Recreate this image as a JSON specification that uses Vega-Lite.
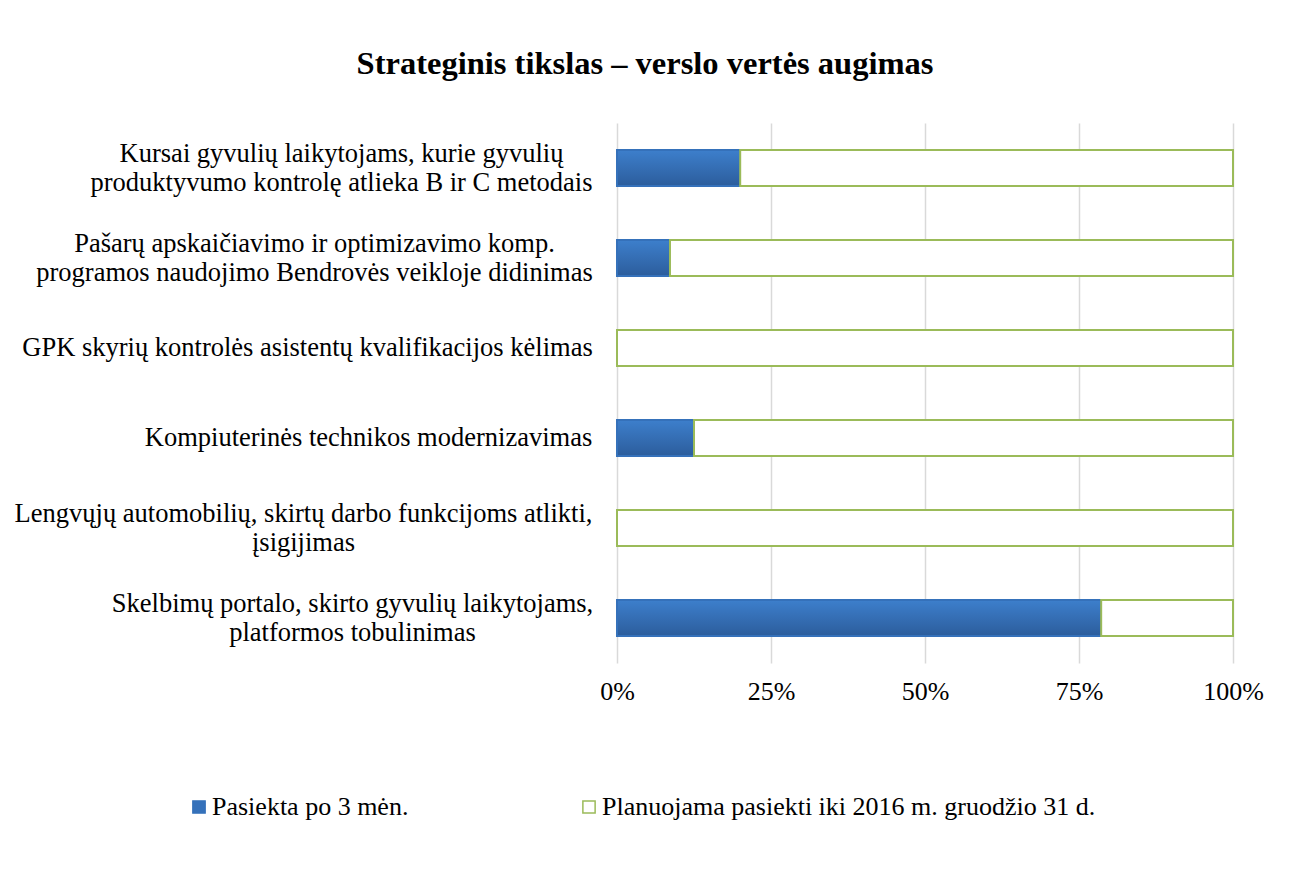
{
  "$schema": "https://vega.github.io/schema/vega-lite/v6.json",
  "autosize": {"type": "none"},
  "width": 616,
  "height": 540,
  "padding": {"left": 617, "top": 123, "right": 66, "bottom": 212},
  "background": "white",
  "title": {
    "text": "Strateginis tikslas – verslo vertės augimas",
    "font": "Liberation Serif",
    "fontSize": 32.5,
    "fontWeight": "bold",
    "color": "black",
    "anchor": "middle",
    "baseline": "alphabetic",
    "offset": 17,
    "dx": -280
  },
  "data": {
    "values": [
      {"cat": "Kursai gyvulių laikytojams, kurie gyvulių|produktyvumo kontrolę atlieka B ir C metodais", "series": "Pasiekta po 3 mėn.", "v": 0.20},
      {"cat": "Kursai gyvulių laikytojams, kurie gyvulių|produktyvumo kontrolę atlieka B ir C metodais", "series": "Planuojama pasiekti iki 2016 m. gruodžio 31 d.", "v": 0.80},
      {"cat": "Pašarų apskaičiavimo ir optimizavimo komp.|programos naudojimo Bendrovės veikloje didinimas", "series": "Pasiekta po 3 mėn.", "v": 0.086},
      {"cat": "Pašarų apskaičiavimo ir optimizavimo komp.|programos naudojimo Bendrovės veikloje didinimas", "series": "Planuojama pasiekti iki 2016 m. gruodžio 31 d.", "v": 0.914},
      {"cat": "GPK skyrių kontrolės asistentų kvalifikacijos kėlimas", "series": "Planuojama pasiekti iki 2016 m. gruodžio 31 d.", "v": 1.0},
      {"cat": "Kompiuterinės technikos modernizavimas", "series": "Pasiekta po 3 mėn.", "v": 0.125},
      {"cat": "Kompiuterinės technikos modernizavimas", "series": "Planuojama pasiekti iki 2016 m. gruodžio 31 d.", "v": 0.875},
      {"cat": "Lengvųjų automobilių, skirtų darbo funkcijoms atlikti,|įsigijimas", "series": "Planuojama pasiekti iki 2016 m. gruodžio 31 d.", "v": 1.0},
      {"cat": "Skelbimų portalo, skirto gyvulių laikytojams,|platformos tobulinimas", "series": "Pasiekta po 3 mėn.", "v": 0.786},
      {"cat": "Skelbimų portalo, skirto gyvulių laikytojams,|platformos tobulinimas", "series": "Planuojama pasiekti iki 2016 m. gruodžio 31 d.", "v": 0.214}
    ]
  },
  "mark": {"type": "bar", "strokeWidth": 2},
  "encoding": {
    "y": {
      "field": "cat",
      "type": "nominal",
      "sort": null,
      "title": null,
      "scale": {"paddingInner": 0.6, "paddingOuter": 0.3},
      "axis": {
        "domain": false,
        "ticks": false,
        "tickSize": 0,
        "labelExpr": "split(datum.value, '|')",
        "labelFont": "Liberation Serif",
        "labelFontSize": 26.5,
        "labelColor": "black",
        "labelLineHeight": 29,
        "labelLimit": 0,
        "labelAlign": "center",
        "labelOffset": {
          "condition": {"test": "indexof(datum.value, '|') >= 0", "value": -14.5},
          "value": 0
        },
        "labelPadding": {
          "condition": [
            {"test": "indexof(datum.value, 'Kursai') == 0", "value": 276},
            {"test": "indexof(datum.value, 'Pašarų') == 0", "value": 303},
            {"test": "indexof(datum.value, 'GPK') == 0", "value": 310},
            {"test": "indexof(datum.value, 'Kompiuterinės') == 0", "value": 249},
            {"test": "indexof(datum.value, 'Lengv') == 0", "value": 314},
            {"test": "indexof(datum.value, 'Skelb') == 0", "value": 265}
          ],
          "value": 280
        }
      }
    },
    "x": {
      "field": "v",
      "type": "quantitative",
      "stack": "zero",
      "title": null,
      "scale": {"domain": [0, 1], "nice": false},
      "axis": {
        "values": [0, 0.25, 0.5, 0.75, 1],
        "format": ".0%",
        "domain": false,
        "ticks": false,
        "tickSize": 0,
        "grid": true,
        "gridColor": "#d9d9d9",
        "gridWidth": 1.5,
        "labelFont": "Liberation Serif",
        "labelFontSize": 26,
        "labelColor": "black",
        "labelPadding": 15,
        "labelFlush": false
      }
    },
    "fill": {
      "condition": {
        "test": "datum.series === 'Pasiekta po 3 mėn.'",
        "value": {
          "gradient": "linear",
          "x1": 0, "y1": 0, "x2": 0, "y2": 1,
          "stops": [
            {"offset": 0, "color": "#3d7fcc"},
            {"offset": 1, "color": "#2c5d9c"}
          ]
        }
      },
      "field": "series",
      "type": "nominal",
      "scale": {
        "domain": ["Pasiekta po 3 mėn.", "Planuojama pasiekti iki 2016 m. gruodžio 31 d."],
        "range": ["#3571ba", "#ffffff"]
      },
      "legend": {
        "title": null,
        "orient": "none",
        "legendX": -431,
        "legendY": 671,
        "direction": "horizontal",
        "symbolType": "square",
        "symbolSize": 150,
        "symbolStrokeWidth": 1.5,
        "labelFont": "Liberation Serif",
        "labelFontSize": 26,
        "labelColor": "black",
        "labelOffset": 0,
        "columnPadding": 167,
        "labelLimit": 0
      }
    },
    "stroke": {
      "field": "series",
      "type": "nominal",
      "scale": {
        "domain": ["Pasiekta po 3 mėn.", "Planuojama pasiekti iki 2016 m. gruodžio 31 d."],
        "range": ["#3571ba", "#9bbb59"]
      },
      "legend": {
        "title": null,
        "orient": "none",
        "legendX": -431,
        "legendY": 671,
        "direction": "horizontal",
        "symbolType": "square",
        "symbolSize": 150,
        "symbolStrokeWidth": 1.5,
        "labelFont": "Liberation Serif",
        "labelFontSize": 26,
        "labelColor": "black",
        "labelOffset": 0,
        "columnPadding": 167,
        "labelLimit": 0
      }
    }
  },
  "config": {
    "view": {"stroke": null}
  }
}
